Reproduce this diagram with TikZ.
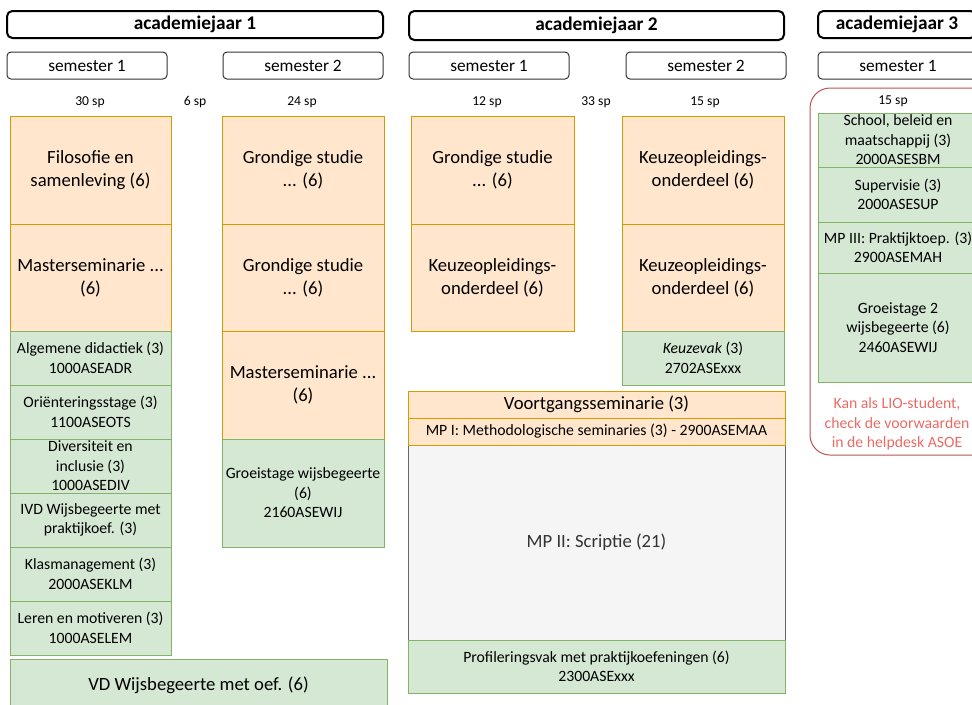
\documentclass[tikz,border=0pt]{standalone}
\usepackage{fontspec}
\setmainfont{Carlito}
\usetikzlibrary{positioning}

\definecolor{oranjevul}{HTML}{FFE6CC}
\definecolor{oranjerand}{HTML}{D79B00}
\definecolor{groenvul}{HTML}{D5E8D4}
\definecolor{groenrand}{HTML}{82B366}
\definecolor{grijsvul}{HTML}{F5F5F5}
\definecolor{grijsrand}{HTML}{666666}
\definecolor{grijstekst}{HTML}{333333}
\definecolor{roodrand}{HTML}{B85450}
\definecolor{roodtekst}{HTML}{EA6B66}

\begin{document}
\begin{tikzpicture}[x=0.75pt, y=-0.75pt,
        afm/.style 2 args={minimum width=#1*0.75pt, minimum height=#2*0.75pt},
        blok/.style={draw, line width=0.75pt, anchor=north west, align=center, inner sep=1pt, outer sep=0pt},
        jaar/.style={blok, line width=1.5pt, rounded corners=4pt, font=\fontsize{14.5}{17}\selectfont\bfseries},
        sem/.style={blok, draw=black!80, rounded corners=3pt, font=\fontsize{13}{15}\selectfont},
        oranje/.style={blok, fill=oranjevul, draw=oranjerand, font=\fontsize{14}{17.2}\selectfont},
        groen/.style={blok, fill=groenvul, draw=groenrand, font=\fontsize{11.8}{14.6}\selectfont},
        grijs/.style={blok, fill=grijsvul, draw=grijsrand, text=grijstekst, font=\fontsize{14}{17}\selectfont},
        sp/.style={font=\fontsize{10.2}{12}\selectfont, inner sep=0pt}]
        \useasboundingbox (0, 0) rectangle (972, 704);
        \clip (0, 0) rectangle (972, 704);

        % academiejaren en semesters
        \node[jaar, afm={376}{27}] (jaar1) at (7, 11) {academiejaar 1};
        \node[jaar, afm={375}{29}] (jaar2) at (409, 11) {academiejaar 2};
        \node[jaar, afm={158}{27}] (jaar3) at (818, 11) {academiejaar 3};
        \foreach \naam/\x/\tekst in {s11/7/semester 1, s12/223/semester 2, s21/409/semester 1,
                        s22/626/semester 2, s31/818/semester 1}
                \node[sem, afm={160}{27}] (\naam) at (\x, 52) {\tekst};

        % studiepunten
        \foreach \naam/\x/\tekst in {sp11/90/30 sp, sp1t/195/6 sp, sp12/302/24 sp, sp21/487/12 sp,
                        sp2t/596/33 sp, sp22/705/15 sp}
                \node[sp] (\naam) at (\x, 102) {\tekst};

        % jaar 1, semester 1
        \node[oranje, afm={161}{108}] (filo) at (10, 116) {Filosofie en\\samenleving (6)};
        \node[oranje, afm={161}{107}] (msem1) at (10, 224) {Masterseminarie ...\\(6)};
        \foreach \i/\y/\tekst in {1/331/{Algemene didactiek (3)\\1000ASEADR},
                        2/385/{Oriënteringsstage (3)\\1100ASEOTS},
                        3/439/{Diversiteit en\\inclusie (3)\\1000ASEDIV},
                        4/493/{IVD Wijsbegeerte met\\praktijkoef. (3)},
                        5/547/{Klasmanagement (3)\\2000ASEKLM},
                        6/601/{Leren en motiveren (3)\\1000ASELEM}}
                \node[groen, afm={161}{54}] (vak\i) at (10, \y) {\tekst};
        \node[groen, afm={377}{52}, font=\fontsize{14}{17}\selectfont] (vd) at (10, 659)
                {VD Wijsbegeerte met oef. (6)};

        % jaar 1, semester 2
        \node[oranje, afm={162}{108}] (grond1) at (222, 116) {Grondige studie\\... (6)};
        \node[oranje, afm={162}{107}] (grond2) at (222, 224) {Grondige studie\\... (6)};
        \node[oranje, afm={162}{108}] (msem2) at (222, 331) {Masterseminarie ...\\(6)};
        \node[groen, afm={162}{108}] (groei1) at (222, 439) {Groeistage wijsbegeerte\\(6)\\2160ASEWIJ};

        % jaar 2
        \node[oranje, afm={163}{108}] (grond3) at (411, 116) {Grondige studie\\... (6)};
        \node[oranje, afm={163}{107}] (keuze1) at (411, 224) {Keuzeopleidings-\\onderdeel (6)};
        \node[oranje, afm={162}{108}] (keuze2) at (622, 116) {Keuzeopleidings-\\onderdeel (6)};
        \node[oranje, afm={162}{107}] (keuze3) at (622, 224) {Keuzeopleidings-\\onderdeel (6)};
        \node[groen, afm={162}{54}] (keuzevak) at (622, 331) {\textit{Keuzevak} (3)\\2702ASExxx};
        \node[grijs, afm={377}{195}] (mp2) at (408, 445) {MP II: Scriptie (21)};
        \node[oranje, afm={377}{27}] (voortgang) at (408, 391) {Voortgangsseminarie (3)};
        \node[oranje, afm={377}{27}, font=\fontsize{11.8}{14}\selectfont] (mp1) at (408, 418)
                {MP I: Methodologische seminaries (3) - 2900ASEMAA};
        \node[groen, afm={377}{53}] (profiel) at (408, 640)
                {Profileringsvak met praktijkoefeningen (6)\\2300ASExxx};

        % jaar 3
        \node[blok, draw=roodrand, rounded corners=15pt, afm={190}{367}] (lio) at (810, 88) {};
        \node[sp] (sp31) at (893, 101) {15 sp};
        \node[groen, afm={160}{54}] (school) at (818, 113) {School, beleid en\\maatschappij (3)\\2000ASESBM};
        \node[groen, afm={160}{55}] (super) at (818, 167) {Supervisie (3)\\2000ASESUP};
        \node[groen, afm={160}{51}] (mp3) at (818, 222) {MP III: Praktijktoep. (3)\\2900ASEMAH};
        \node[groen, afm={160}{109}] (groei2) at (818, 273) {Groeistage 2\\wijsbegeerte (6)\\2460ASEWIJ};
        \node[align=center, text=roodtekst, font=\fontsize{11.8}{14.6}\selectfont] (liotekst) at (897, 424)
                {Kan als LIO-student,\\check de voorwaarden\\in de helpdesk ASOE};
\end{tikzpicture}
\end{document}
